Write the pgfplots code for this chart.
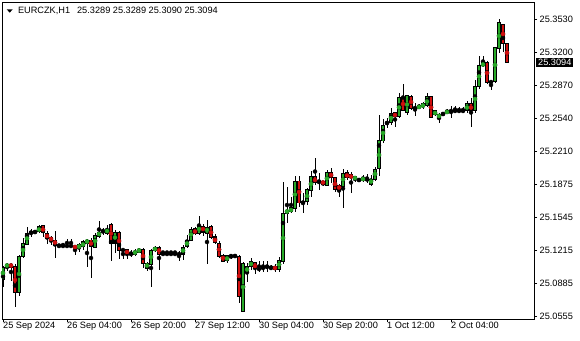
\documentclass[border=0pt]{standalone}
\usepackage{pgfplots}
\usepackage{pgfplotstable}
\usepackage{fontspec}
\setmainfont{Liberation Sans}
\pgfplotsset{compat=1.18}
\definecolor{bull}{RGB}{40,170,40}
\definecolor{bear}{RGB}{210,15,15}
\pgfplotstableread{
x o h l c
0 25.093 25.106 25.085 25.105
1 25.105 25.109 25.101 25.108
2 25.108 25.109 25.091 25.105
3 25.105 25.108 25.065 25.079
4 25.080 25.117 25.076 25.116
5 25.115 25.134 25.114 25.129
6 25.128 25.145 25.127 25.139
7 25.139 25.143 25.135 25.140
8 25.140 25.142 25.138 25.140
9 25.140 25.147 25.139 25.145
10 25.146 25.147 25.135 25.139
11 25.139 25.141 25.128 25.133
12 25.134 25.136 25.127 25.132
13 25.132 25.141 25.114 25.127
14 25.126 25.127 25.126 25.126
15 25.126 25.129 25.125 25.126
16 25.126 25.133 25.125 25.126
17 25.126 25.133 25.125 25.126
18 25.126 25.127 25.117 25.124
19 25.124 25.129 25.120 25.127
20 25.125 25.132 25.122 25.130
21 25.129 25.133 25.105 25.132
22 25.132 25.134 25.094 25.125
23 25.125 25.139 25.124 25.137
24 25.136 25.151 25.134 25.140
25 25.141 25.144 25.137 25.141
26 25.139 25.147 25.137 25.143
27 25.148 25.149 25.111 25.129
28 25.129 25.142 25.119 25.140
29 25.140 25.141 25.113 25.122
30 25.122 25.123 25.113 25.122
31 25.122 25.123 25.113 25.118
32 25.118 25.122 25.115 25.118
33 25.118 25.123 25.116 25.121
34 25.120 25.124 25.119 25.123
35 25.123 25.124 25.104 25.109
36 25.104 25.110 25.101 25.109
37 25.108 25.123 25.085 25.122
38 25.121 25.126 25.120 25.125
39 25.125 25.126 25.102 25.118
40 25.118 25.121 25.118 25.118
41 25.118 25.121 25.118 25.118
42 25.118 25.121 25.118 25.118
43 25.118 25.121 25.118 25.118
44 25.118 25.121 25.111 25.118
45 25.118 25.127 25.112 25.125
46 25.125 25.137 25.124 25.132
47 25.132 25.145 25.131 25.143
48 25.143 25.145 25.137 25.138
49 25.139 25.156 25.137 25.147
50 25.146 25.148 25.136 25.140
51 25.139 25.152 25.108 25.145
52 25.145 25.147 25.133 25.134
53 25.135 25.138 25.128 25.129
54 25.129 25.131 25.114 25.116
55 25.117 25.118 25.110 25.111
56 25.111 25.117 25.109 25.116
57 25.116 25.118 25.113 25.116
58 25.116 25.117 25.115 25.116
59 25.116 25.117 25.069 25.076
60 25.061 25.110 25.061 25.109
61 25.099 25.109 25.090 25.106
62 25.105 25.114 25.102 25.111
63 25.109 25.110 25.098 25.103
64 25.103 25.111 25.100 25.103
65 25.104 25.111 25.100 25.104
66 25.105 25.111 25.100 25.105
67 25.104 25.107 25.102 25.104
68 25.105 25.108 25.100 25.103
69 25.103 25.115 25.100 25.112
70 25.110 25.190 25.108 25.158
71 25.159 25.185 25.149 25.162
72 25.160 25.175 25.159 25.164
73 25.164 25.196 25.160 25.191
74 25.191 25.196 25.165 25.169
75 25.169 25.179 25.159 25.170
76 25.170 25.184 25.167 25.182
77 25.181 25.201 25.175 25.195
78 25.195 25.214 25.187 25.189
79 25.190 25.199 25.182 25.190
80 25.191 25.191 25.186 25.188
81 25.187 25.202 25.186 25.200
82 25.200 25.204 25.189 25.194
83 25.194 25.195 25.180 25.182
84 25.187 25.188 25.175 25.182
85 25.186 25.203 25.164 25.199
86 25.199 25.202 25.192 25.194
87 25.197 25.200 25.179 25.194
88 25.193 25.196 25.190 25.195
89 25.192 25.193 25.191 25.192
90 25.192 25.197 25.190 25.194
91 25.192 25.198 25.189 25.193
92 25.188 25.197 25.186 25.193
93 25.193 25.205 25.191 25.203
94 25.203 25.257 25.196 25.231
95 25.231 25.253 25.229 25.247
96 25.249 25.254 25.244 25.249
97 25.249 25.264 25.247 25.259
98 25.259 25.260 25.245 25.255
99 25.255 25.279 25.254 25.274
100 25.274 25.288 25.261 25.262
101 25.259 25.277 25.257 25.276
102 25.276 25.277 25.262 25.264
103 25.264 25.269 25.256 25.264
104 25.264 25.268 25.263 25.266
105 25.265 25.270 25.263 25.268
106 25.266 25.279 25.265 25.275
107 25.275 25.276 25.254 25.254
108 25.257 25.262 25.256 25.261
109 25.254 25.259 25.249 25.258
110 25.258 25.259 25.257 25.258
111 25.259 25.263 25.258 25.261
112 25.261 25.266 25.254 25.261
113 25.261 25.266 25.259 25.261
114 25.261 25.265 25.259 25.261
115 25.261 25.265 25.259 25.261
116 25.261 25.271 25.259 25.268
117 25.268 25.274 25.245 25.261
118 25.261 25.292 25.259 25.285
119 25.285 25.316 25.283 25.306
120 25.306 25.316 25.305 25.309
121 25.309 25.311 25.288 25.289
122 25.290 25.292 25.282 25.290
123 25.290 25.325 25.289 25.324
124 25.323 25.353 25.319 25.349
125 25.348 25.348 25.320 25.328
126 25.3289 25.3289 25.3090 25.3094
}\candles
\begin{document}
\begin{tikzpicture}
\fill[white] (-2pt,-21pt) rectangle (578pt,319pt);
\useasboundingbox (-2pt,-21pt) rectangle (578pt,319pt);
\begin{axis}[
  at={(0pt,0pt)}, anchor=south west,
  scale only axis, width=532pt, height=317pt,
  xmin=-0.25, xmax=132.75, ymin=25.053, ymax=25.370,
  axis line style={line width=0.8pt, black},
  xtick={0,16,32,48,64,80,96,112},
  xticklabels={25 Sep 2024,26 Sep 04:00,26 Sep 20:00,27 Sep 12:00,30 Sep 04:00,30 Sep 20:00,1 Oct 12:00,2 Oct 04:00},
  ytick={25.0555,25.0885,25.1215,25.1545,25.1875,25.2210,25.2540,25.2870,25.3200,25.3530},
  yticklabels={25.0555,25.0885,25.1215,25.1545,25.1875,25.2210,25.2540,25.2870,25.3200,25.3530},
  xtick pos=bottom, ytick pos=right,
  tick align=outside, major tick length=3pt,
  tick style={black, line width=0.8pt},
  tick label style={font=\fontsize{9.2}{10}\selectfont, black},
  xticklabel style={anchor=north west, inner sep=0pt},
  yticklabel style={anchor=west, inner sep=0pt, xshift=2.5pt},
]
% wicks
\addplot[only marks, mark=none, black, error bars/.cd, y dir=both, y explicit, error mark=none,
  error bar style={line width=1pt, black}]
  table[x=x, y expr={0.5*(\thisrow{h}+\thisrow{l})}, y error expr={0.5*(\thisrow{h}-\thisrow{l})}] {\candles};
% body outline
\addplot[only marks, mark=none, black, error bars/.cd, y dir=both, y explicit, error mark=none,
  error bar style={line width=3.3pt, black}]
  table[x=x, y expr={0.5*(\thisrow{o}+\thisrow{c})}, y error expr={0.5*abs(\thisrow{c}-\thisrow{o})+0.0005}] {\candles};
% bull fill
\addplot[only marks, mark=none, bull, restrict expr to domain={\thisrow{c}-\thisrow{o}}{0.0015:1},
  error bars/.cd, y dir=both, y explicit, error mark=none,
  error bar style={line width=1.5pt, bull}]
  table[x=x, y expr={0.5*(\thisrow{o}+\thisrow{c})}, y error expr={0.5*(\thisrow{c}-\thisrow{o})-0.0005}] {\candles};
% bear fill
\addplot[only marks, mark=none, bear, restrict expr to domain={\thisrow{o}-\thisrow{c}}{0.0015:1},
  error bars/.cd, y dir=both, y explicit, error mark=none,
  error bar style={line width=1.5pt, bear}]
  table[x=x, y expr={0.5*(\thisrow{o}+\thisrow{c})}, y error expr={0.5*(\thisrow{o}-\thisrow{c})-0.0005}] {\candles};
\coordinate (cp) at (axis cs:132.75,25.3094);
\end{axis}
\node[anchor=west, fill=black, text=white, inner xsep=2pt, inner ysep=1.5pt, font=\fontsize{9.2}{10}\selectfont] at ([xshift=2pt]cp) {25.3094};
\fill[black] (4.7pt,309.7pt) -- (10.7pt,309.7pt) -- (7.7pt,306.3pt) -- cycle;
\node[anchor=base west, inner sep=0pt, font=\fontsize{9.2}{10}\selectfont] at (15.8pt,305pt) {EURCZK,H1\hspace{7pt}25.3289 25.3289 25.3090 25.3094};
\end{tikzpicture}
\end{document}
